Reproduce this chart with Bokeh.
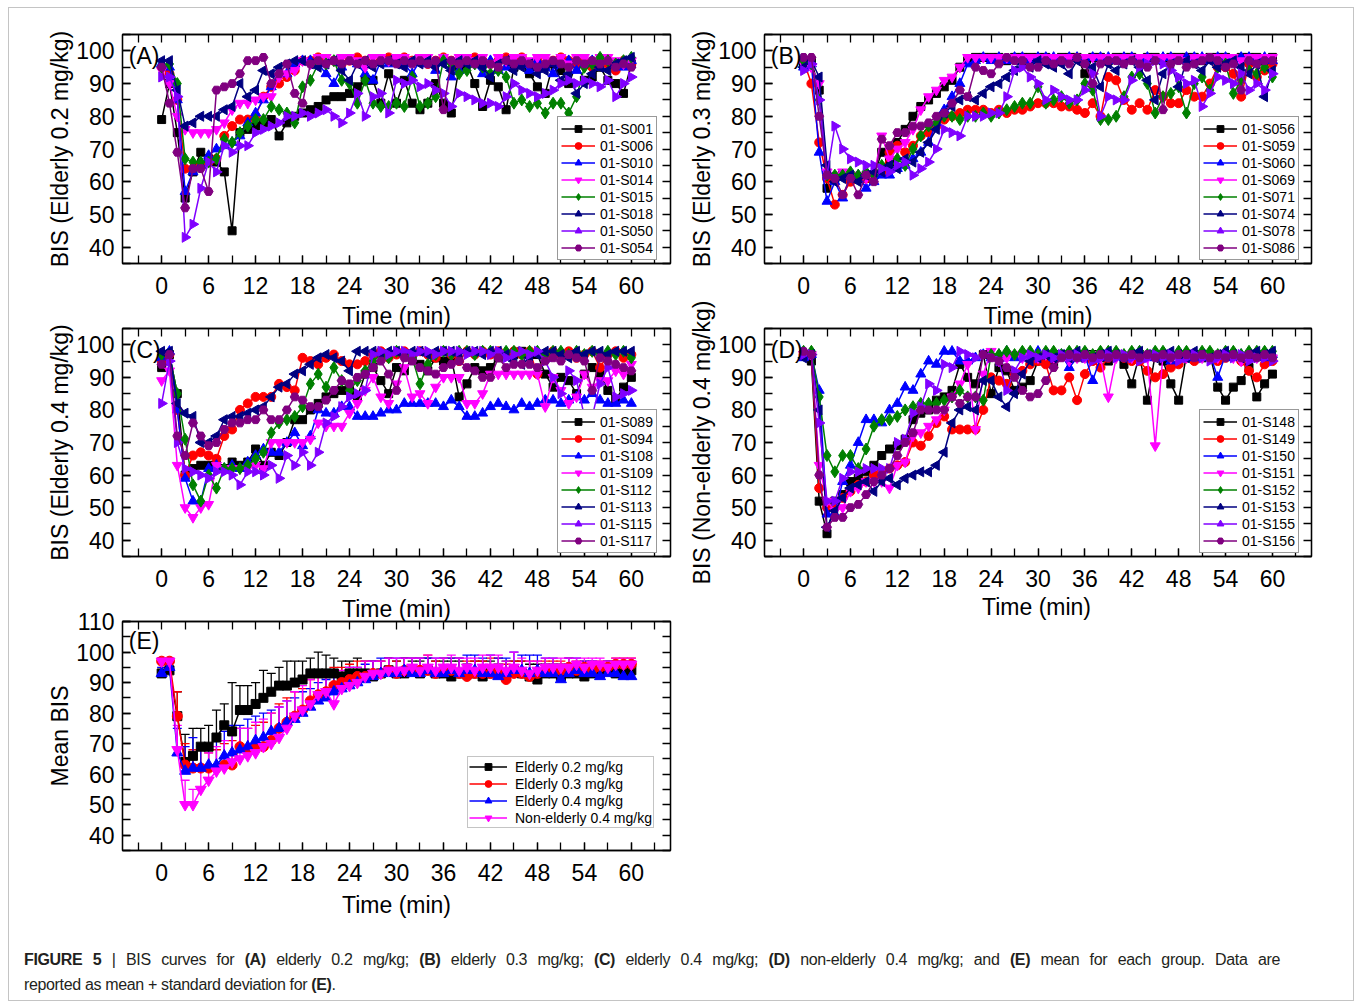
import math
from bokeh.plotting import figure
from bokeh.models import (LinearAxis, SingleIntervalTicker, FixedTicker, Range1d, Legend, LegendItem,
                          Label, Title, Div, Whisker, TeeHead, ColumnDataSource)
from bokeh.layouts import column, row
from bokeh.embed import file_html
from bokeh.resources import INLINE

# ---------------- data ----------------
TIME_MIN = list(range(0, 61))
X_MINOR_TICKS = [-3, 0, 3, 6, 9, 12, 15, 18, 21, 24, 27, 30, 33, 36, 39, 42, 45, 48, 51, 54, 57, 60, 63]
Y_MINOR_TICKS = [35, 40, 45, 50, 55, 60, 65, 70, 75, 80, 85, 90, 95, 100, 105, 110]

A_NAMES = ["01-S001", "01-S006", "01-S010", "01-S014", "01-S015", "01-S018", "01-S050", "01-S054"]
A_S001 = [79,90,75,55,63,69,67,66,63,45, 75,76,77,78,79,74,78,80,81,82, 83,85,86,86,87,89,91,91,84,93, 84,91,84,82,84,90,84,81,95,96, 90,83,91,89,82,95,96,93,89,87, 96,94,90,96,91,92,95,91,90,87, 96]
A_S006 = [95,93,85,64,64,65,66,67,74,77, 79,79,80,86,89,90,92,94,97,97, 98,97,97,96,97,98,97,96,97,98, 97,98,97,97,96,97,98,97,96,97, 98,97,96,97,98,97,98,96,97,95, 97,98,97,96,97,95,97,96,94,97, 96]
A_S010 = [96,95,85,57,63,65,68,70,71,72, 74,78,81,85,89,93,93,96,97,97, 96,93,90,95,97,96,93,91,97,96, 97,96,93,97,96,94,97,92,94,97, 96,93,97,94,95,97,96,94,97,95, 93,96,97,94,96,97,95,97,96,95, 97]
A_S014 = [94,90,80,76,75,75,75,76,78,82, 84,84,85,86,86,92,93,94,97,96, 98,98,97,98,98,97,95,98,98,97, 98,98,97,98,98,96,98,97,98,98, 97,98,96,98,97,98,98,97,98,98, 97,98,96,98,98,97,98,98,97,96, 97]
A_S015 = [95,96,90,67,66,66,66,67,73,72, 75,77,79,79,83,82,81,78,89,91, 96,96,97,91,90,84,91,84,83,83, 84,83,92,83,84,86,97,95,93,94, 96,95,93,94,92,84,85,83,84,81, 84,84,81,86,95,96,98,97,96,97, 98]
A_S018 = [97,97,88,77,78,80,80,80,82,83, 90,86,88,94,93,95,96,97,97,96, 95,96,97,94,91,96,97,95,96,97, 96,95,97,96,97,95,96,94,97,96, 97,95,92,96,97,94,95,96,93,94, 96,91,93,87,90,93,95,94,96,97, 98]
A_S050 = [92,92,86,43,47,58,66,63,71,69, 71,71,75,76,77,78,80,80,81,80, 81,82,80,78,81,87,80,86,87,81, 91,90,91,89,90,88,87,83,87,86, 85,84,84,83,86,90,88,87,86,87, 88,90,91,90,91,90,89,91,86,90, 92]
A_S054 = [95,84,69,52,64,64,57,88,89,90, 93,97,97,98,90,93,96,87,84,96, 97,96,97,96,97,96,97,96,97,97, 96,97,96,97,96,97,82,97,96,97, 96,97,96,95,97,96,97,96,95,96, 97,96,95,97,96,97,96,97,95,96, 95]

B_NAMES = ["01-S056", "01-S059", "01-S060", "01-S069", "01-S071", "01-S074", "01-S078", "01-S086"]
B_S056 = [96,97,88,58,61,62,61,61,61,62, 69,66,72,76,80,83,85,87,89,91, 95,97,98,98,98,98,97,98,98,98, 98,98,97,98,98,98,93,98,98,97, 98,98,98,97,98,98,97,98,98,98, 98,97,98,98,98,97,98,98,98,97, 98]
B_S059 = [97,90,72,61,53,56,60,61,61,62, 63,69,71,69,71,74,75,77,79,80, 81,82,82,82,81,82,81,82,82,83, 84,84,84,83,83,82,81,84,80,92, 91,85,82,84,82,88,86,84,84,88, 86,86,90,95,95,93,86,96,92,94, 96]
B_S060 = [95,96,69,54,60,55,62,62,58,60, 62,62,64,65,67,69,72,78,82,86, 90,96,97,98,97,98,97,98,98,97, 98,98,98,97,98,98,97,98,98,98, 97,98,98,97,98,97,98,98,97,98, 98,98,97,98,98,97,98,98,97,98, 97]
B_S069 = [96,95,90,63,62,63,62,62,61,62, 74,67,70,72,76,82,86,88,91,92, 95,98,98,98,98,98,98,98,98,98, 98,98,98,98,98,98,98,98,98,98, 98,98,98,98,98,98,98,98,98,97, 98,98,98,98,98,98,97,98,98,98, 98]
B_S071 = [97,96,85,62,62,62,63,62,63,62, 65,64,67,65,70,74,77,78,80,80, 79,80,80,81,80,81,82,83,84,84, 89,84,85,86,84,85,90,88,79,79, 80,86,92,93,90,81,86,87,89,81, 90,92,88,95,96,87,91,94,93,95, 92]
B_S074 = [95,97,92,65,60,61,62,60,62,63, 63,65,64,67,66,69,72,76,81,83, 85,86,85,87,89,90,92,94,96,95, 97,96,95,96,93,97,96,95,89,96, 94,96,97,95,91,85,93,96,89,97, 96,94,97,95,96,97,95,93,96,86, 94]
B_S078 = [94,96,85,62,77,70,67,66,65,65, 64,63,65,66,62,64,66,70,76,75, 74,80,80,80,81,81,86,94,95,92, 90,85,88,86,85,85,88,93,80,86, 85,85,91,95,96,97,96,94,92,90, 91,83,87,92,91,90,93,88,90,88, 93]
B_S086 = [98,98,80,62,61,56,61,56,62,60, 73,71,75,75,77,77,78,80,81,84, 88,86,95,94,93,96,98,97,97,95, 95,97,96,97,96,98,96,90,96,97, 97,96,97,96,95,97,82,96,97,95, 96,97,98,97,95,96,88,97,96,97, 97]

C_NAMES = ["01-S089", "01-S094", "01-S108", "01-S109", "01-S112", "01-S113", "01-S115", "01-S117"]
C_S089 = [93,97,85,60,62,63,63,63,62,64, 63,64,68,63,67,66,70,77,77,80, 82,84,85,86,86,84,91,93,89,85, 93,92,96,94,92,96,95,96,84,88, 93,92,93,96,97,97,98,97,97,91, 87,90,89,85,91,93,91,86,83,87, 90]
C_S094 = [95,97,80,60,66,67,66,65,72,74, 80,82,84,84,84,88,87,86,96,95, 94,96,97,95,94,94,95,97,98,96, 97,98,97,98,97,96,98,97,95,98, 97,98,97,98,97,98,97,98,91,97, 98,97,98,96,97,98,93,97,98,96, 97]
C_S108 = [96,98,80,59,52,52,62,63,62,63, 62,64,66,68,67,67,70,73,69,72, 80,79,79,81,81,78,78,78,79,80, 80,82,82,82,82,82,81,83,81,78, 78,79,81,82,81,80,82,81,82,83, 83,82,83,84,83,85,83,82,82,83, 82]
C_S109 = [89,92,63,50,47,50,51,63,62,62, 62,62,63,62,70,70,70,70,70,71, 76,75,75,75,79,82,86,90,84,82, 88,93,84,85,82,87,90,90,90,82, 82,85,91,91,91,91,91,91,91,81, 90,86,82,84,91,87,89,89,92,91, 94]
C_S112 = [97,97,85,71,57,52,60,56,62,62, 62,63,65,67,73,76,77,78,81,88, 91,87,93,89,86,89,92,95,97,96, 98,97,96,88,94,97,98,97,98,98, 97,98,98,97,98,98,97,98,98,97, 98,98,97,98,97,98,97,98,97,98, 96]
C_S113 = [98,98,82,79,78,70,70,72,77,78, 78,79,80,81,84,87,88,91,92,94, 96,97,96,95,92,98,98,98,97,98, 98,97,98,98,97,98,98,98,97,98, 98,97,98,98,97,95,94,96,97,98, 98,97,96,98,97,98,98,97,98,98, 98]
C_S115 = [82,95,70,62,61,60,59,61,61,60, 57,61,61,60,63,59,66,63,67,63, 67,76,78,81,84,85,86,97,98,97, 98,98,97,98,98,97,98,98,98,97, 98,98,97,98,96,97,98,97,98,95, 90,85,92,89,78,78,88,93,84,85, 86]
C_S117 = [94,97,72,66,76,72,69,70,74,76, 76,77,77,80,77,77,80,84,83,81, 81,83,86,89,88,90,91,93,95,91, 86,96,95,93,92,91,93,94,95,93, 92,90,90,96,93,94,94,94,93,95, 96,95,97,96,95,86,96,95,94,93, 92]

D_NAMES = ["01-S148", "01-S149", "01-S150", "01-S151", "01-S152", "01-S153", "01-S155", "01-S156"]
D_S148 = [97,95,52,42,52,54,58,59,61,63, 66,68,69,71,77,79,80,83,84,86, 94,90,88,97,85,93,92,86,87,89, 95,96,94,97,96,97,96,97,96,95, 97,94,88,97,83,97,95,88,83,97, 97,96,97,87,83,87,89,93,84,88, 91]
D_S149 = [97,97,56,50,50,53,55,57,58,60, 61,62,63,64,70,69,72,76,78,74, 74,74,74,80,90,89,88,91,92,94, 95,94,86,86,90,83,91,95,93,96, 97,96,95,95,92,90,91,93,94,96, 95,97,96,95,96,97,95,92,90,94, 95]
D_S150 = [96,97,86,48,48,58,63,70,77,77, 76,80,82,87,86,91,95,94,98,98, 95,95,96,97,96,97,98,96,97,97, 98,97,96,97,93,96,97,89,96,97, 97,96,97,98,96,97,96,95,97,96, 97,96,97,90,97,96,97,96,97,96, 97]
D_S151 = [97,97,63,52,49,50,55,56,58,58, 58,56,63,64,72,73,75,77,80,84, 88,94,74,91,98,95,96,97,96,97, 96,97,96,97,95,96,96,97,96,84, 96,97,96,97,96,69,97,96,97,96, 97,96,97,96,97,96,95,97,96,97, 96]
D_S152 = [98,98,84,66,61,66,66,62,68,75, 77,77,78,80,81,82,82,82,83,84, 86,84,84,83,97,97,98,97,98,98, 97,98,98,97,98,98,98,97,98,98, 98,97,98,98,97,98,98,97,98,98, 97,98,98,97,98,98,97,98,98,98, 98]
D_S153 = [96,97,80,44,49,53,56,57,58,55, 58,59,57,59,60,61,61,63,67,76, 80,81,80,89,89,84,81,85,91,95, 96,97,96,97,96,98,97,96,97,98, 97,96,97,98,97,96,97,98,97,96, 98,97,96,97,98,97,96,97,98,97, 98]
D_S155 = [97,97,76,52,52,59,61,61,62,62, 62,62,70,71,79,81,88,86,94,93, 98,97,96,97,96,95,86,92,96,97, 96,97,96,97,96,97,96,95,96,97, 96,97,96,95,96,97,96,97,95,96, 97,96,95,96,97,96,97,95,96,96, 95]
D_S156 = [98,97,60,44,47,47,50,51,54,58, 60,62,66,70,73,80,80,80,80,84, 82,84,84,97,96,95,93,90,86,84, 85,89,93,96,97,96,97,96,97,96, 97,96,97,96,97,96,97,96,97,97, 96,97,96,97,96,97,96,97,96,97, 96]

E_NAMES = ["Elderly 0.2 mg/kg", "Elderly 0.3 mg/kg", "Elderly 0.4 mg/kg", "Non-elderly 0.4 mg/kg"]
E_MEAN_E02 = [93,94,79,64,66,69,69,72,76,74, 81,81,83,85,87,89,89,90,91,93, 93,93,93,92,93,93,93,92,93,94, 93,93,94,93,94,93,93,92,93,93, 93,92,93,93,92,94,93,92,91,93, 93,92,93,93,92,93,93,94,93,93, 94]
E_SD_E02 = [5,3,8,9,9,6,7,9,7,16, 8,8,7,9,6,6,8,7,6,5, 7,6,5,5,4,5,4,5,4,4, 4,5,3,4,4,4,4,5,4,3, 4,5,4,3,5,3,4,4,5,3, 3,4,3,3,4,3,3,3,3,3, 3]
E_MEAN_E03 = [97,97,79,63,62,62,62,62,63,63, 69,68,69,69,71,75,77,79,81,84, 86,87,89,90,91,92,92,93,93,94, 93,94,94,94,94,93,94,94,93,92, 93,93,93,94,91,93,93,92,93,94, 94,94,95,94,95,94,95,95,96,96, 96]
E_SD_E03 = [1,1,8,7,6,6,5,6,7,8, 6,7,7,8,9,8,8,8,7,7, 7,6,6,5,5,5,5,4,4,4, 4,4,4,4,5,4,4,4,5,5, 4,4,5,4,5,4,4,5,4,3, 3,3,3,3,2,3,2,2,2,2, 2]
E_MEAN_E04 = [93,95,67,61,62,62,63,63,66,67, 68,69,71,72,74,75,77,78,80,82, 84,85,87,88,89,90,91,92,93,93, 93,94,93,93,94,93,93,94,93,94, 94,93,93,92,93,94,94,93,94,93, 93,91,93,94,93,93,92,93,93,92, 92]
E_SD_E04 = [2,2,8,8,10,7,7,8,8,9, 8,9,8,8,7,7,7,7,7,6, 6,6,6,5,6,5,5,5,5,5, 5,4,5,5,4,5,5,4,5,5, 5,5,6,6,5,6,5,6,5,5, 5,4,5,4,4,4,4,4,4,4, 4]
E_MEAN_NE04 = [97,97,68,50,50,55,58,61,62,64, 65,66,67,69,70,72,75,79,81,83, 86,87,83,88,89,90,92,93,93,94, 94,94,95,94,95,94,95,95,94,95, 94,95,95,95,94,95,94,93,94,95, 95,95,95,96,95,96,96,95,96,96, 96]
E_SD_NE04 = [1,1,8,8,5,8,9,8,9,9, 10,9,10,9,10,10,9,8,8,8, 7,7,7,6,6,5,5,4,4,4, 4,4,3,4,4,4,3,4,4,3, 4,4,4,4,3,5,4,4,3,3, 3,3,3,2,3,2,2,2,2,2, 2]

# ---------------- styles ----------------
FONT = "Liberation Sans"
COLORS = ["#000000", "#FF0000", "#0000FF", "#FF00FF", "#008000", "#000080", "#8000FF", "#800080"]
MARKERS = [("square", 0.0, 8), ("circle", 0.0, 9), ("triangle", 0.0, 10), ("inverted_triangle", 0.0, 10),
           ("diamond", 0.0, 12), ("triangle", math.pi / 2, 10), ("triangle", -math.pi / 2, 10), ("hex", 0.0, 9)]
E_COLORS = ["#000000", "#FF0000", "#0000FF", "#FF00FF"]
E_MARKERS = [("square", 0.0, 9), ("circle", 0.0, 10), ("triangle", 0.0, 11), ("inverted_triangle", 0.0, 11)]


def style_axis(ax, label_standoff=8, title_standoff=0):
    ax.major_tick_in = 8
    ax.major_tick_out = 0
    ax.minor_tick_in = 8
    ax.minor_tick_out = 0
    ax.axis_line_width = 1.3
    ax.major_tick_line_width = 1.3
    ax.minor_tick_line_width = 1.3
    ax.axis_line_color = "black"
    ax.major_tick_line_color = "black"
    ax.minor_tick_line_color = "black"
    ax.major_label_text_font = FONT
    ax.major_label_text_font_size = "23px"
    ax.major_label_text_color = "black"
    ax.major_label_standoff = label_standoff
    ax.axis_label_text_font = FONT
    ax.axis_label_text_font_size = "23px"
    ax.axis_label_text_font_style = "normal"
    ax.axis_label_text_color = "black"
    ax.axis_label_standoff = title_standoff


def make_fig(width, height, left, right, top, bottom, y_end, ylabel, xlabel=None, top_title=None):
    p = figure(width=width, height=height, x_range=Range1d(-5, 65), y_range=Range1d(35, y_end),
               output_backend="svg", toolbar_location=None, x_axis_type=None, y_axis_type=None,
               min_border_left=left, min_border_right=right, min_border_top=top,
               min_border_bottom=bottom, background_fill_color="white", border_fill_color="white")
    p.outline_line_color = "black"
    p.outline_line_width = 1.3
    bax = LinearAxis(ticker=SingleIntervalTicker(interval=6, num_minor_ticks=2), axis_label=xlabel)
    lax = LinearAxis(ticker=SingleIntervalTicker(interval=10, num_minor_ticks=2), axis_label=ylabel)
    # mirrored axes: tick marks only (all as minor ticks, so no labels are drawn)
    tax = LinearAxis(ticker=FixedTicker(ticks=[], minor_ticks=X_MINOR_TICKS))
    rax = LinearAxis(ticker=FixedTicker(ticks=[], minor_ticks=Y_MINOR_TICKS))
    style_axis(bax, label_standoff=13, title_standoff=8)
    style_axis(lax, label_standoff=8, title_standoff=0)
    style_axis(tax, label_standoff=0)
    style_axis(rax, label_standoff=0)
    p.add_layout(bax, "below")
    p.add_layout(lax, "left")
    p.add_layout(tax, "above")
    p.add_layout(rax, "right")
    if top_title is not None:
        p.add_layout(Title(text=top_title, align="center", text_font=FONT, text_font_size="23px",
                           text_font_style="normal", text_color="black", standoff=0), "above")
    return p


def add_letter(p, text, y):
    p.add_layout(Label(x=-4.2, y=y, text=text, text_font=FONT, text_font_size="23px",
                       text_baseline="middle", text_align="left", text_color="black"))


def make_legend(items, location, padding, glyph_width, standoff, border_color, border_width):
    return Legend(items=items, location=location, label_text_font=FONT, label_text_font_size="14px",
                  label_text_color="black", glyph_width=glyph_width, glyph_height=17, label_height=17,
                  label_standoff=standoff, spacing=0, padding=padding, margin=0,
                  border_line_color=border_color, border_line_width=border_width,
                  background_fill_color="white", background_fill_alpha=1.0)


def individual_panel(p, names, series, letter):
    items = []
    for name, vals, color, (mk, ang, sz) in zip(names, series, COLORS, MARKERS):
        src = ColumnDataSource(dict(t=TIME_MIN[:len(vals)], v=vals))
        lr = p.line("t", "v", source=src, line_color=color, line_width=1.5)
        sr = p.scatter("t", "v", source=src, marker=mk, angle=ang, size=sz,
                       fill_color=color, line_color=color)
        items.append(LegendItem(label=name, renderers=[lr, sr]))
    p.add_layout(make_legend(items, (435, 3), 3, 34, 5, "#333333", 1))
    add_letter(p, letter, 98.5)


# Row 1
pA = make_fig(677, 291, 113, 16, 26, 36, 105, "BIS (Elderly 0.2 mg/kg)")
individual_panel(pA, A_NAMES, [A_S001, A_S006, A_S010, A_S014, A_S015, A_S018, A_S050, A_S054], "(A)")
pB = make_fig(667, 291, 76, 42, 26, 36, 105, "BIS (Elderly 0.3 mg/kg)")
individual_panel(pB, B_NAMES, [B_S056, B_S059, B_S060, B_S069, B_S071, B_S074, B_S078, B_S086], "(B)")

# Row 2 (the titles carry the x-axis name of the row above)
pC = make_fig(677, 293, 113, 16, 29, 36, 105, "BIS (Elderly 0.4 mg/kg)", top_title="Time (min)")
individual_panel(pC, C_NAMES, [C_S089, C_S094, C_S108, C_S109, C_S112, C_S113, C_S115, C_S117], "(C)")
pD = make_fig(667, 293, 76, 42, 29, 36, 105, "BIS (Non-elderly 0.4 mg/kg)", top_title="Time (min)")
individual_panel(pD, D_NAMES, [D_S148, D_S149, D_S150, D_S151, D_S152, D_S153, D_S155, D_S156], "(D)")

# Row 3: mean panel
pE = make_fig(677, 333, 113, 16, 29, 75, 110, "Mean BIS", xlabel="Time (min)", top_title="Time (min)")
e_items = []
for name, mean, sd, color, (mk, ang, sz) in zip(
        E_NAMES, [E_MEAN_E02, E_MEAN_E03, E_MEAN_E04, E_MEAN_NE04],
        [E_SD_E02, E_SD_E03, E_SD_E04, E_SD_NE04], E_COLORS, E_MARKERS):
    n = min(len(mean), len(sd))
    src = ColumnDataSource(dict(t=TIME_MIN[:n], v=mean[:n],
                                hi=[m + s for m, s in zip(mean[:n], sd[:n])]))
    w = Whisker(source=src, base="t", lower="v", upper="hi", dimension="height",
                line_color=color, line_width=1.3,
                upper_head=TeeHead(size=9, line_color=color, line_width=1.3), lower_head=None)
    pE.add_layout(w)
    lr = pE.line("t", "v", source=src, line_color=color, line_width=1.5)
    sr = pE.scatter("t", "v", source=src, marker=mk, angle=ang, size=sz,
                    fill_color=color, line_color=color)
    e_items.append(LegendItem(label=name, renderers=[lr, sr]))
pE.add_layout(make_legend(e_items, (345, 22), 1, 38, 8, "#8a8a8a", 1.5))
add_letter(pE, "(E)", 103.6)

div_d = Div(text=("<div style=\"box-sizing:border-box;width:667px;padding-left:34px;padding-top:4px;"
                  "text-align:center;font-family:'Liberation Sans',Arial,sans-serif;font-size:23px;"
                  "line-height:22px;color:black\">Time (min)</div>"),
            width=667, height=333, margin=0)

caption = Div(text=("<div style=\"padding-left:15px;padding-top:22px;font-family:'Liberation Sans',Arial,sans-serif;"
                    "font-size:16px;letter-spacing:-0.35px;line-height:25px;color:#231f20\">"
                    "<div style=\"width:1256px;text-align:justify;text-align-last:justify\">"
                    "<b>FIGURE 5</b> | BIS curves for <b>(A)</b> elderly 0.2 mg/kg; <b>(B)</b> elderly 0.3 mg/kg; "
                    "<b>(C)</b> elderly 0.4 mg/kg; <b>(D)</b> non-elderly 0.4 mg/kg; and <b>(E)</b> mean for each group. "
                    "Data are</div>"
                    "<div>reported as mean + standard deviation for <b>(E)</b>.</div></div>"),
              width=1344, height=75, margin=0)

layout = column(row(pA, pB), row(pC, pD), row(pE, div_d), caption,
                margin=(7, 0, 0, 8), styles={"border": "1px solid #c4c4c4"})

open("out.html", "w").write(file_html(layout, INLINE))
